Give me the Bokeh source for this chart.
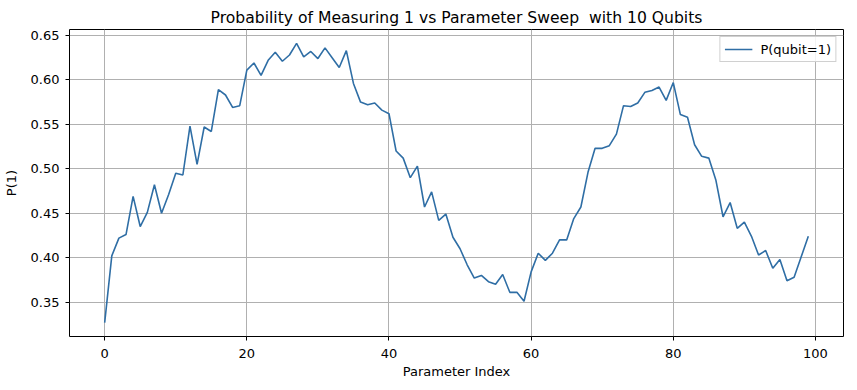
from bokeh.plotting import figure
from bokeh.embed import file_html
from bokeh.resources import INLINE
from bokeh.models import ColumnDataSource, Legend, LegendItem, FixedTicker, Range1d, CustomJSTickFormatter

param_index = list(range(100))
p_qubit1 = [
    0.327, 0.402, 0.422, 0.426, 0.469, 0.435, 0.451, 0.482, 0.450, 0.471,
    0.495, 0.493, 0.548, 0.505, 0.547, 0.542, 0.589, 0.583, 0.569, 0.571,
    0.611, 0.619, 0.605, 0.622, 0.631, 0.621, 0.628, 0.641, 0.626, 0.632,
    0.624, 0.636, 0.625, 0.614, 0.633, 0.596, 0.575, 0.572, 0.574, 0.566,
    0.562, 0.520, 0.512, 0.490, 0.503, 0.457, 0.474, 0.442, 0.449, 0.423,
    0.410, 0.392, 0.377, 0.380, 0.373, 0.370, 0.381, 0.361, 0.361, 0.351,
    0.384, 0.405, 0.397, 0.405, 0.420, 0.420, 0.444, 0.457, 0.496, 0.523,
    0.523, 0.526, 0.539, 0.571, 0.570, 0.574, 0.586, 0.588, 0.592, 0.577,
    0.597, 0.561, 0.558, 0.527, 0.514, 0.512, 0.487, 0.446, 0.462, 0.433,
    0.440, 0.424, 0.403, 0.408, 0.388, 0.398, 0.374, 0.378, 0.401, 0.424,
]
x_ticks = [0, 20, 40, 60, 80, 100]
y_ticks = [0.35, 0.40, 0.45, 0.50, 0.55, 0.60, 0.65]

FONT = "DejaVu Sans"

p = figure(
    output_backend="svg", toolbar_location=None,
    title="Probability of Measuring 1 vs Parameter Sweep \u00a0with 10 Qubits",
    x_range=Range1d(-4.95, 103.95), y_range=Range1d(0.3113, 0.6567),
    min_border_left=62, min_border_right=4, min_border_top=29, min_border_bottom=36,
)
p.frame_width = 774
p.frame_height = 307

p.title.align = "center"
p.title.text_font = FONT
p.title.text_font_size = "15.6px"
p.title.text_font_style = "normal"
p.title.text_color = "black"
p.title.offset = 0
p.title.standoff = 5

src = ColumnDataSource(dict(x=param_index, y=p_qubit1))
r = p.line("x", "y", source=src, line_color="#2f6ea5", line_width=1.6)

p.xaxis.ticker = FixedTicker(ticks=x_ticks)
p.yaxis.ticker = FixedTicker(ticks=y_ticks)
p.yaxis.formatter = CustomJSTickFormatter(code="return tick.toFixed(2);")

p.xaxis.axis_label = "Parameter Index"
p.yaxis.axis_label = "P(1)"
for ax in (p.xaxis, p.yaxis):
    ax.axis_label_text_font = FONT
    ax.axis_label_text_font_size = "13px"
    ax.axis_label_text_font_style = "normal"
    ax.axis_label_text_color = "black"
    ax.major_label_text_font = FONT
    ax.major_label_text_font_size = "13px"
    ax.major_label_text_color = "black"
    ax.axis_line_color = None
    ax.major_tick_line_color = "black"
    ax.major_tick_out = 4
    ax.major_tick_in = 0
    ax.minor_tick_line_color = None
    ax.major_label_standoff = 6
    ax.axis_label_standoff = 5
p.xaxis.major_label_standoff = 8
p.xaxis.axis_label_standoff = 3
p.yaxis.axis_label_standoff = 9

p.outline_line_color = "black"
p.outline_line_width = 1
p.outline_line_alpha = 1

p.xgrid.grid_line_color = "#b0b0b0"
p.ygrid.grid_line_color = "#b0b0b0"
p.xgrid.grid_line_width = 1
p.ygrid.grid_line_width = 1

legend = Legend(items=[LegendItem(label="P(qubit=1)", renderers=[r])],
                location="top_right")
legend.label_text_font = FONT
legend.label_text_font_size = "13px"
legend.label_text_color = "black"
legend.border_line_color = "#d0d0d0"
legend.border_line_alpha = 1
legend.background_fill_alpha = 0.85
legend.glyph_width = 28
legend.glyph_height = 16
legend.label_standoff = 8
legend.padding = 4
legend.margin = 7
legend.spacing = 0
p.add_layout(legend)

p.background_fill_color = "white"
p.border_fill_color = "white"

open("out.html", "w").write(file_html(p, INLINE))
